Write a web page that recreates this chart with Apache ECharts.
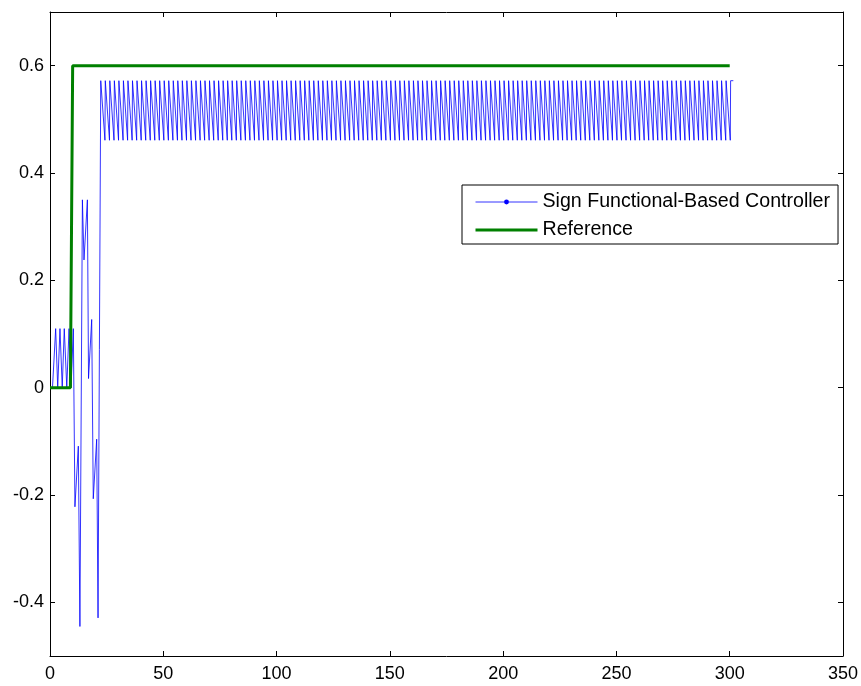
<!DOCTYPE html>
<html>
<head>
<meta charset="utf-8">
<script src="https://cdn.jsdelivr.net/npm/echarts@6/dist/echarts.min.js"></script>
<style>
html,body{margin:0;padding:0;background:#fff;}
#chart{width:861px;height:686px;}
</style>
</head>
<body>
<div id="chart"></div>
<script>
// ---------- data ----------
const seriesNames = ['Sign Functional-Based Controller', 'Reference'];
const yTickValues = [-0.4, -0.2, 0, 0.2, 0.4, 0.6];

// Reference signal (step)
const refT = [0, 9, 10, 300];
const refY = [0, 0, 0.6, 0.6];

// Controller: initial transient
const transT = [0, 1.1, 2.5, 3.4, 4.4, 5.4, 6.3, 7.4, 8.4, 9.3, 10.3, 11.0, 12.5, 13.2, 14.3, 15.0, 16.5, 17.0, 18.4, 19.1, 20.6, 21.2, 22.4];
const transY = [0, 0, 0.11, 0, 0.11, 0, 0.11, 0, 0.11, 0, 0.11, -0.222, -0.109, -0.445, 0.35, 0.238, 0.35, 0.017, 0.127, -0.207, -0.096, -0.429, 0.572];

// Controller: steady oscillation (bottom / top times)
const oscHigh = 0.572;
const oscLow = 0.461;
const oscBottomT = [
  24.25,26.25,28.25,30.25,32.25,34.25,36.25,38.25,40.25,42.25,
  44.25,46.25,48.25,50.25,52.25,54.25,56.25,58.25,60.25,62.25,
  64.25,66.25,68.25,70.25,72.25,74.25,76.25,78.25,80.25,82.25,
  84.25,86.25,88.25,90.25,92.25,94.25,96.25,98.25,100.25,102.25,
  104.25,106.25,108.25,110.25,112.25,114.25,116.25,118.25,120.25,122.25,
  124.25,126.25,128.25,130.25,132.25,134.25,136.25,138.25,140.25,142.25,
  144.25,146.25,148.25,150.25,152.25,154.25,156.25,158.25,160.25,162.25,
  164.25,166.25,168.25,170.25,172.25,174.25,176.25,178.25,180.25,182.25,
  184.25,186.25,188.25,190.25,192.25,194.25,196.25,198.25,200.25,202.25,
  204.25,206.25,208.25,210.25,212.25,214.25,216.25,218.25,220.25,222.25,
  224.25,226.25,228.25,230.25,232.25,234.25,236.25,238.25,240.25,242.25,
  244.25,246.25,248.25,250.25,252.25,254.25,256.25,258.25,260.25,262.25,
  264.25,266.25,268.25,270.25,272.25,274.25,276.25,278.25,280.25,282.25,
  284.25,286.25,288.25,290.25,292.25,294.25,296.25,298.25,300.25
];
const oscTopT = [
  24.4,26.4,28.4,30.4,32.4,34.4,36.4,38.4,40.4,42.4,
  44.4,46.4,48.4,50.4,52.4,54.4,56.4,58.4,60.4,62.4,
  64.4,66.4,68.4,70.4,72.4,74.4,76.4,78.4,80.4,82.4,
  84.4,86.4,88.4,90.4,92.4,94.4,96.4,98.4,100.4,102.4,
  104.4,106.4,108.4,110.4,112.4,114.4,116.4,118.4,120.4,122.4,
  124.4,126.4,128.4,130.4,132.4,134.4,136.4,138.4,140.4,142.4,
  144.4,146.4,148.4,150.4,152.4,154.4,156.4,158.4,160.4,162.4,
  164.4,166.4,168.4,170.4,172.4,174.4,176.4,178.4,180.4,182.4,
  184.4,186.4,188.4,190.4,192.4,194.4,196.4,198.4,200.4,202.4,
  204.4,206.4,208.4,210.4,212.4,214.4,216.4,218.4,220.4,222.4,
  224.4,226.4,228.4,230.4,232.4,234.4,236.4,238.4,240.4,242.4,
  244.4,246.4,248.4,250.4,252.4,254.4,256.4,258.4,260.4,262.4,
  264.4,266.4,268.4,270.4,272.4,274.4,276.4,278.4,280.4,282.4,
  284.4,286.4,288.4,290.4,292.4,294.4,296.4,298.4,300.4
];
// Controller: final sample
const endT = [301.6];
const endY = [0.572];

// ---------- build series data ----------
const ctrlData = [];
transT.forEach((t, i) => ctrlData.push([t, transY[i]]));
oscTopT.forEach((t, i) => {
  ctrlData.push([oscBottomT[i], oscLow]);
  ctrlData.push([t, oscHigh]);
});
endT.forEach((t, i) => ctrlData.push([t, endY[i]]));
const refData = refT.map((t, i) => [t, refY[i]]);

// ---------- chart ----------
const font = '"Liberation Sans", Arial, sans-serif';
const black = '#000';
const lineAx = { show: true, onZero: false, lineStyle: { color: black, width: 1 } };
const chart = echarts.init(document.getElementById('chart'), null, { renderer: 'canvas' });
chart.setOption({
  animation: false,
  backgroundColor: '#fff',
  grid: { left: 50, right: 18, top: 12, bottom: 30, containLabel: false, outerBoundsMode: 'none' },
  xAxis: [
    {
      type: 'value', min: 0, max: 350, interval: 50, position: 'bottom',
      axisLine: lineAx,
      axisTick: { show: true, inside: true, length: 5, lineStyle: { color: black } },
      axisLabel: { color: black, fontSize: 18, fontFamily: font, margin: 9 },
      splitLine: { show: false }
    },
    {
      type: 'value', min: 0, max: 350, interval: 50, position: 'top',
      axisLine: lineAx,
      axisTick: { show: true, inside: true, length: 5, lineStyle: { color: black } },
      axisLabel: { show: false },
      splitLine: { show: false }
    }
  ],
  yAxis: [
    {
      type: 'value', min: -0.5, max: 0.7, position: 'left',
      axisLine: lineAx,
      axisTick: { show: true, inside: true, length: 5, customValues: yTickValues, lineStyle: { color: black } },
      axisLabel: {
        customValues: yTickValues, color: black, fontSize: 18, fontFamily: font, margin: 6,
        formatter: v => String(Math.round(v * 10) / 10)
      },
      splitLine: { show: false }
    },
    {
      type: 'value', min: -0.5, max: 0.7, position: 'right',
      axisLine: lineAx,
      axisTick: { show: true, inside: true, length: 5, customValues: yTickValues, lineStyle: { color: black } },
      axisLabel: { show: false },
      splitLine: { show: false }
    }
  ],
  legend: {
    orient: 'vertical', left: 462, top: 185,
    padding: [7, 8, 4, 12], itemGap: 8, itemWidth: 62, itemHeight: 6,
    borderColor: black, borderWidth: 1, borderRadius: 0, backgroundColor: '#fff',
    textStyle: { fontSize: 19.6, lineHeight: 20, fontFamily: font, color: black },
    data: [
      { name: seriesNames[0], lineStyle: { width: 0.8, color: '#0000ff' }, itemStyle: { color: '#0000ff' } },
      { name: seriesNames[1], lineStyle: { width: 3, color: '#008000' }, itemStyle: { opacity: 0 } }
    ]
  },
  series: [
    {
      name: seriesNames[0], type: 'line', data: ctrlData,
      symbol: 'circle', symbolSize: 2, showSymbol: false,
      lineStyle: { color: '#0000ff', width: 0.8 },
      itemStyle: { color: '#0000ff' },
      z: 2
    },
    {
      name: seriesNames[1], type: 'line', data: refData,
      symbol: 'none',
      lineStyle: { color: '#008000', width: 3 },
      itemStyle: { color: '#008000' },
      z: 3
    }
  ]
});
</script>
</body>
</html>
